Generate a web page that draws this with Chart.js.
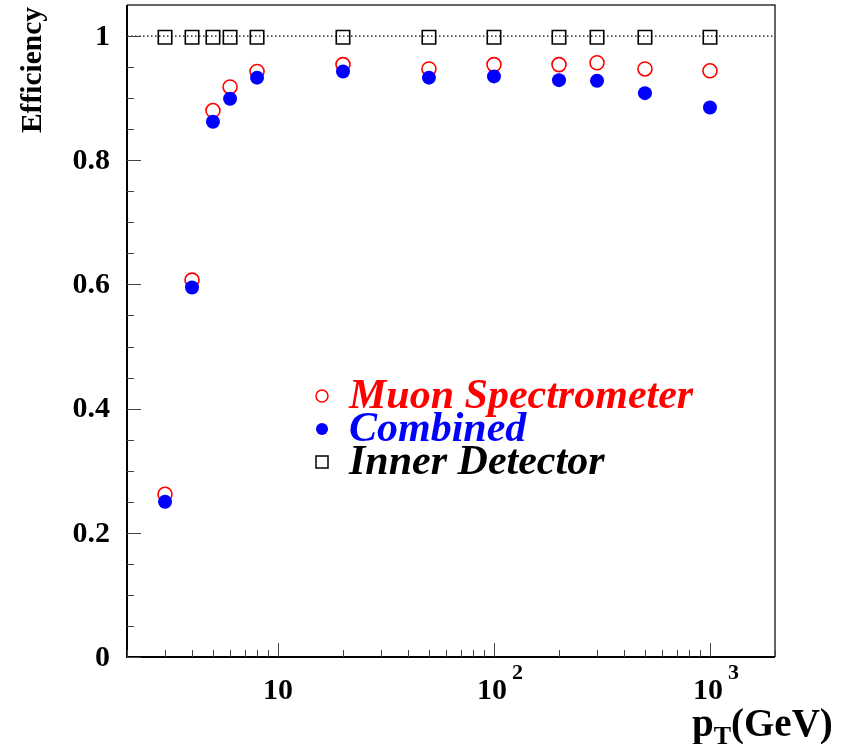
<!DOCTYPE html>
<html>
<head>
<meta charset="utf-8">
<script src="https://cdn.jsdelivr.net/npm/chart.js@4"></script>
<style>
  html, body { margin: 0; padding: 0; background: #fff; }
  #wrap { width: 843px; height: 744px; }
</style>
</head>
<body>
<div id="wrap"><canvas id="eff" width="843" height="744"></canvas></div>
<script>
// pT values (GeV) and efficiencies
const ptValues = [3, 4, 5, 6, 8, 20, 50, 100, 200, 300, 500, 1000];
const effMuonSpec = [0.262, 0.607, 0.880, 0.918, 0.943, 0.954, 0.947, 0.954, 0.954, 0.957, 0.947, 0.944];
const effCombined = [0.250, 0.595, 0.862, 0.899, 0.933, 0.943, 0.933, 0.935, 0.929, 0.928, 0.908, 0.885];
const effInnerDet = [0.998, 0.998, 0.998, 0.998, 0.998, 0.998, 0.998, 0.998, 0.998, 0.998, 0.998, 0.998];

const yTickLabels = ["0", "0.2", "0.4", "0.6", "0.8", "1"];
const yTickValues = [0, 0.2, 0.4, 0.6, 0.8, 1];
const xMajorTicks = [10, 100, 1000];
const legendNames = ["Muon Spectrometer", "Combined", "Inner Detector"];

const RED = "#ff0000";
const BLUE = "#0000ff";
const SERIF = "'Liberation Serif', 'DejaVu Serif', serif";

const toPts = vals => ptValues.map((x, i) => ({ x: x, y: vals[i] }));

// axes, ticks, labels and legend drawn ROOT-style (ticks inside the frame)
const rootFrame = {
  id: "rootFrame",
  beforeDatasetsDraw(chart) {
    const { ctx, chartArea: a, scales } = chart;
    const y1 = scales.y.getPixelForValue(1);
    ctx.save();
    ctx.strokeStyle = "#000";
    ctx.lineWidth = 1.2;
    ctx.setLineDash([1.5, 2.5]);
    ctx.beginPath();
    ctx.moveTo(a.left, y1);
    ctx.lineTo(a.right, y1);
    ctx.stroke();
    ctx.restore();
  },
  afterDraw(chart) {
    const { ctx, chartArea: a, scales } = chart;
    const xs = scales.x, ys = scales.y;
    ctx.save();

    // frame
    ctx.lineWidth = 1.5;
    ctx.strokeStyle = "#333";
    ctx.beginPath();
    ctx.moveTo(a.left, a.top);
    ctx.lineTo(a.right, a.top);
    ctx.lineTo(a.right, a.bottom);
    ctx.stroke();
    ctx.lineWidth = 2;
    ctx.strokeStyle = "#000";
    ctx.beginPath();
    ctx.moveTo(a.left, a.top);
    ctx.lineTo(a.left, a.bottom);
    ctx.lineTo(a.right, a.bottom);
    ctx.stroke();

    // y ticks
    ctx.lineWidth = 1;
    ctx.strokeStyle = "#444";
    for (let k = 0; k <= 20; k++) {
      const v = k * 0.05;
      const py = Math.round(ys.getPixelForValue(v)) + 0.5;
      const len = k % 4 === 0 ? 14 : 7;
      ctx.beginPath();
      ctx.moveTo(a.left, py);
      ctx.lineTo(a.left + len, py);
      ctx.stroke();
    }
    // x ticks (log)
    for (let dec = 1; dec <= 1000; dec *= 10) {
      for (let m = 1; m <= 9; m++) {
        const v = m * dec;
        if (v < xs.min || v > xs.max) continue;
        const px = Math.round(xs.getPixelForValue(v)) + 0.5;
        const len = m === 1 ? 14 : 7;
        ctx.beginPath();
        ctx.moveTo(px, a.bottom);
        ctx.lineTo(px, a.bottom - len);
        ctx.stroke();
      }
    }

    // y labels
    ctx.fillStyle = "#000";
    ctx.font = "bold 30px " + SERIF;
    ctx.textAlign = "right";
    ctx.textBaseline = "middle";
    yTickValues.forEach((v, i) => {
      ctx.fillText(yTickLabels[i], a.left - 17, ys.getPixelForValue(v) + 1);
    });

    // x labels
    ctx.textBaseline = "alphabetic";
    xMajorTicks.forEach(v => {
      const px = xs.getPixelForValue(v);
      const exp = Math.round(Math.log10(v));
      ctx.font = "bold 30px " + SERIF;
      if (exp === 1) {
        ctx.textAlign = "center";
        ctx.fillText("10", px, 699);
      } else {
        ctx.textAlign = "left";
        ctx.fillText("10", px - 17, 699);
        ctx.font = "bold 22px " + SERIF;
        ctx.fillText(String(exp), px + 18, 679);
      }
    });

    // axis titles
    ctx.save();
    ctx.translate(41, 70);
    ctx.rotate(-Math.PI / 2);
    ctx.textAlign = "center";
    ctx.font = "bold 29.5px " + SERIF;
    ctx.fillText("Efficiency", 0, 0);
    ctx.restore();

    ctx.textAlign = "left";
    ctx.font = "bold 39px " + SERIF;
    let tx = 692;
    ctx.fillText("p", tx, 736);
    tx += ctx.measureText("p").width;
    ctx.font = "bold 26px " + SERIF;
    ctx.fillText("T", tx, 744);
    tx += ctx.measureText("T").width;
    ctx.font = "bold 39px " + SERIF;
    ctx.fillText("(GeV)", tx, 736);

    // legend
    const lx = 322, rows = [396, 429, 462], colors = [RED, BLUE, "#000"];
    ctx.lineWidth = 1.5;
    ctx.strokeStyle = RED;
    ctx.beginPath();
    ctx.arc(lx, rows[0], 6, 0, Math.PI * 2);
    ctx.stroke();
    ctx.fillStyle = BLUE;
    ctx.beginPath();
    ctx.arc(lx, rows[1], 6, 0, Math.PI * 2);
    ctx.fill();
    ctx.strokeStyle = "#000";
    ctx.strokeRect(lx - 6, rows[2] - 6, 12, 12);
    ctx.font = "italic bold 42px " + SERIF;
    ctx.textBaseline = "alphabetic";
    legendNames.forEach((name, i) => {
      ctx.fillStyle = colors[i];
      ctx.fillText(name, 349, rows[i] + 12);
    });

    ctx.restore();
  }
};

new Chart(document.getElementById("eff"), {
  type: "scatter",
  data: {
    datasets: [
      {
        label: legendNames[0],
        data: toPts(effMuonSpec),
        pointStyle: "circle",
        pointRadius: 7,
        borderWidth: 1.6,
        borderColor: RED,
        backgroundColor: "rgba(255,255,255,0)",
        order: 1
      },
      {
        label: legendNames[1],
        data: toPts(effCombined),
        pointStyle: "circle",
        pointRadius: 7,
        borderWidth: 0,
        borderColor: BLUE,
        backgroundColor: BLUE,
        order: 0
      },
      {
        label: legendNames[2],
        data: toPts(effInnerDet),
        pointStyle: "rect",
        pointRadius: 9.5,
        borderWidth: 1.6,
        borderColor: "#000",
        backgroundColor: "rgba(255,255,255,0)",
        order: 2
      }
    ]
  },
  options: {
    responsive: false,
    animation: false,
    layout: { autoPadding: false, padding: { left: 127, right: 68, top: 5, bottom: 87 } },
    scales: {
      x: { type: "logarithmic", min: 2, max: 2000, display: false },
      y: { type: "linear", min: 0, max: 1.05, display: false }
    },
    plugins: {
      legend: { display: false },
      tooltip: { enabled: false }
    }
  },
  plugins: [rootFrame]
});
</script>
</body>
</html>
